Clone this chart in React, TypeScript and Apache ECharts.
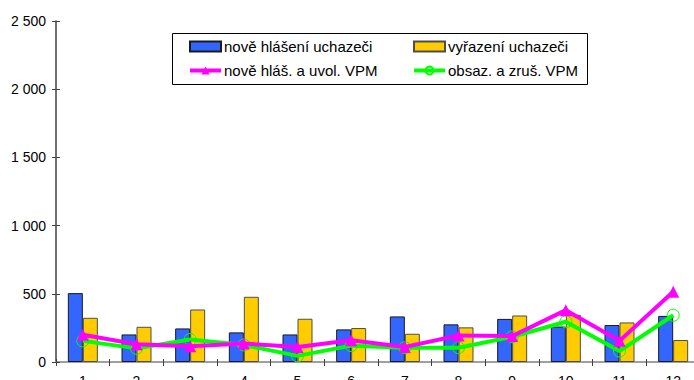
import React, { useEffect, useRef } from "react";
import * as echarts from "echarts";

const categories = ["1", "2", "3", "4", "5", "6", "7", "8", "9", "10", "11", "12"];
const seriesNames = [
  "nově hlášení uchazeči",
  "vyřazení uchazeči",
  "nově hláš. a uvol. VPM",
  "obsaz. a zruš. VPM",
];
const noveHlaseni = [505, 202, 246, 217, 202, 239, 334, 276, 316, 260, 271, 338];
const vyrazeni = [324, 258, 385, 478, 317, 249, 207, 254, 341, 345, 290, 161];
const noveVPM = [200, 130, 115, 135, 110, 160, 110, 195, 190, 380, 155, 515];
const obsazVPM = [155, 100, 165, 125, 45, 120, 105, 105, 185, 295, 80, 343];
const yMin = 0;
const yMax = 2500;
const yStep = 500;

const FONT = "'Liberation Sans', Arial, sans-serif";

function fmt(v: number): string {
  return String(v).replace(/\B(?=(\d{3})+(?!\d))/g, " ");
}

export default function App() {
  const ref = useRef<HTMLDivElement>(null);
  useEffect(() => {
    if (!ref.current) return;
    const chart = echarts.init(ref.current, undefined, { renderer: "svg" });
    const axisColor = "#404040";
    const legendText = { fontSize: 15, color: "#000", fontFamily: FONT, padding: [0, 0, 0, -2] };
    chart.setOption({
      animation: false,
      backgroundColor: "#ffffff",
      textStyle: { fontFamily: FONT },
      grid: { left: 56, top: 21, width: 644, bottom: 18, containLabel: false, outerBoundsMode: "none" },
      graphic: [
        {
          type: "rect",
          z: 3,
          shape: { x: 172.5, y: 33.5, width: 415, height: 51 },
          style: { fill: "#ffffff", stroke: "#000000", lineWidth: 1 },
        },
      ],
      legend: [
        {
          orient: "vertical",
          left: 188,
          top: 39,
          padding: 0,
          itemGap: 9,
          itemWidth: 31,
          itemHeight: 10,
          z: 5,
          selectedMode: false,
          textStyle: legendText,
          data: [
            { name: seriesNames[0], icon: "rect" },
            { name: seriesNames[2], lineStyle: { width: 4 } },
          ],
        },
        {
          orient: "vertical",
          left: 412,
          top: 39,
          padding: 0,
          itemGap: 9,
          itemWidth: 31,
          itemHeight: 10,
          z: 5,
          selectedMode: false,
          textStyle: legendText,
          data: [
            { name: seriesNames[1], icon: "rect" },
            { name: seriesNames[3], lineStyle: { width: 4 } },
          ],
        },
      ],
      xAxis: [
        {
          type: "category",
          data: categories,
          position: "bottom",
          boundaryGap: true,
          axisLine: { show: true, lineStyle: { color: axisColor, width: 1.5 } },
          axisTick: { show: true, length: 4, lineStyle: { color: axisColor, width: 1 } },
          axisLabel: { fontSize: 14, color: "#000", margin: 12, fontFamily: FONT },
          splitLine: { show: false },
        },
        {
          type: "category",
          data: categories,
          position: "top",
          boundaryGap: true,
          axisLine: { show: true, lineStyle: { color: "#a0a0a0", width: 2 } },
          axisTick: { show: false },
          axisLabel: { show: false },
          splitLine: { show: false },
        },
        {
          type: "category",
          data: categories,
          position: "bottom",
          boundaryGap: true,
          axisLine: { show: false },
          axisTick: { show: true, inside: true, length: 3, lineStyle: { color: axisColor, width: 1 } },
          axisLabel: { show: false },
          splitLine: { show: false },
        },
      ],
      yAxis: [
        {
          type: "value",
          min: yMin,
          max: yMax,
          interval: yStep,
          axisLine: { show: true, lineStyle: { color: axisColor, width: 1.5 } },
          axisTick: { show: true, length: 4, lineStyle: { color: axisColor, width: 1 } },
          axisLabel: { fontSize: 14, color: "#000", margin: 10, fontFamily: FONT, formatter: (v: number) => fmt(v) },
          splitLine: { show: false },
        },
        {
          type: "value",
          min: yMin,
          max: yMax,
          interval: yStep,
          position: "left",
          axisLine: { show: false },
          axisTick: { show: true, inside: true, length: 4, lineStyle: { color: axisColor, width: 1 } },
          axisLabel: { show: false },
          splitLine: { show: false },
        },
      ],
      series: [
        {
          name: seriesNames[0],
          type: "bar",
          data: noveHlaseni,
          barWidth: 15,
          barGap: "0%",
          itemStyle: { color: "#3366FF", borderColor: "#1a1a1a", borderWidth: 1 },
        },
        {
          name: seriesNames[1],
          type: "bar",
          data: vyrazeni,
          barWidth: 15,
          barGap: "0%",
          itemStyle: { color: "#FFCC00", borderColor: "#4d4d4d", borderWidth: 1 },
        },
        {
          name: seriesNames[2],
          type: "line",
          data: noveVPM,
          symbol: "triangle",
          symbolSize: 12,
          z: 4,
          lineStyle: { color: "#FF00FF", width: 4 },
          itemStyle: { color: "#FF00FF" },
        },
        {
          name: seriesNames[3],
          type: "line",
          data: obsazVPM,
          symbol: "circle",
          symbolSize: 12,
          z: 3,
          lineStyle: { color: "#00FF00", width: 4 },
          itemStyle: { color: "rgba(0,0,0,0)", borderColor: "#00FF00", borderWidth: 1 },
        },
      ],
    });
    return () => chart.dispose();
  }, []);
  return (
    <div
      ref={ref}
      style={{ position: "fixed", left: 0, top: 0, width: 694, height: 380, background: "#fff" }}
    />
  );
}
